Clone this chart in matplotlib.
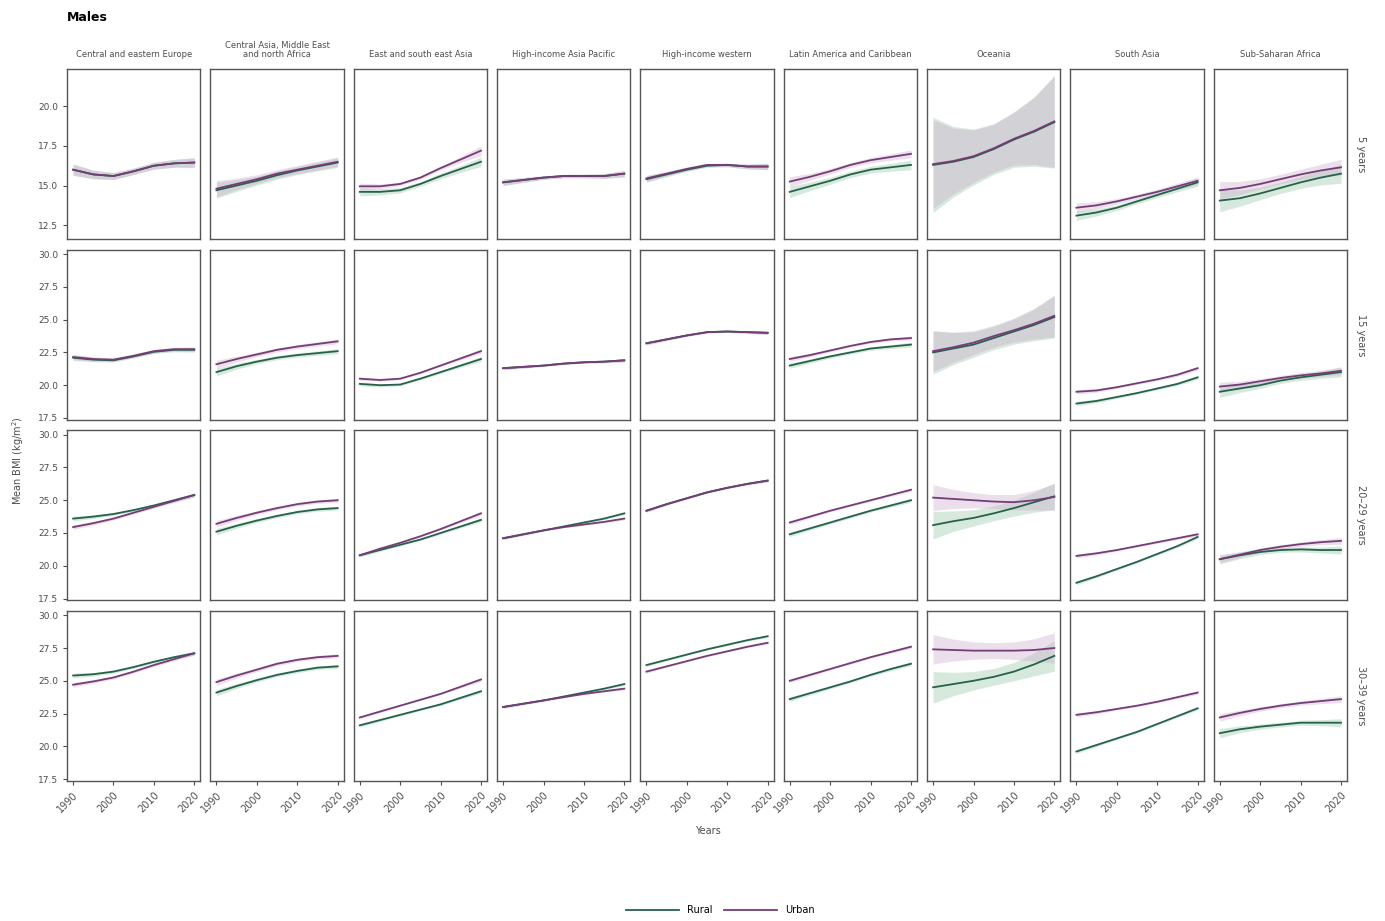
import numpy as np
import matplotlib
matplotlib.use("Agg")
import matplotlib.pyplot as plt
from matplotlib.lines import Line2D

# regions (columns) and age groups (rows)
regions = ["Central and eastern Europe",
           "Central Asia, Middle East\nand north Africa",
           "East and south east Asia",
           "High-income Asia Pacific",
           "High-income western",
           "Latin America and Caribbean",
           "Oceania",
           "South Asia",
           "Sub-Saharan Africa"]
ages = ["5 years", "15 years", "20\u201329 years", "30\u201339 years"]

years = [1990, 1995, 2000, 2005, 2010, 2015, 2020]

# mean BMI, one list per region, years as above
rural_5 = [
    [16.0, 15.7, 15.6, 15.9, 16.25, 16.4, 16.45],
    [14.7, 15.0, 15.3, 15.65, 15.95, 16.2, 16.45],
    [14.6, 14.6, 14.7, 15.1, 15.6, 16.05, 16.5],
    [15.2, 15.35, 15.5, 15.6, 15.6, 15.6, 15.75],
    [15.4, 15.7, 16.0, 16.25, 16.3, 16.2, 16.2],
    [14.6, 14.95, 15.3, 15.7, 16.0, 16.15, 16.3],
    [16.3, 16.5, 16.8, 17.3, 17.9, 18.4, 19.0],
    [13.1, 13.3, 13.6, 14.0, 14.4, 14.8, 15.2],
    [14.05, 14.2, 14.5, 14.85, 15.2, 15.5, 15.75],
]
urban_5 = [
    [16.0, 15.7, 15.6, 15.9, 16.25, 16.4, 16.45],
    [14.8, 15.1, 15.4, 15.75, 16.0, 16.25, 16.5],
    [14.95, 14.95, 15.1, 15.5, 16.1, 16.65, 17.2],
    [15.2, 15.35, 15.5, 15.6, 15.6, 15.6, 15.75],
    [15.45, 15.75, 16.05, 16.3, 16.3, 16.2, 16.2],
    [15.25, 15.55, 15.9, 16.3, 16.6, 16.8, 17.0],
    [16.35, 16.55, 16.85, 17.35, 17.95, 18.45, 19.05],
    [13.6, 13.75, 14.0, 14.3, 14.6, 14.95, 15.3],
    [14.7, 14.85, 15.1, 15.4, 15.7, 15.95, 16.15],
]
rural_15 = [
    [22.1, 21.95, 21.9, 22.2, 22.55, 22.7, 22.7],
    [21.0, 21.45, 21.8, 22.1, 22.3, 22.45, 22.6],
    [20.1, 20.0, 20.05, 20.5, 21.0, 21.5, 22.0],
    [21.3, 21.4, 21.5, 21.65, 21.75, 21.8, 21.9],
    [23.2, 23.5, 23.8, 24.05, 24.1, 24.05, 24.0],
    [21.5, 21.85, 22.2, 22.5, 22.8, 22.95, 23.1],
    [22.5, 22.8, 23.1, 23.6, 24.1, 24.6, 25.2],
    [18.6, 18.8, 19.1, 19.4, 19.75, 20.1, 20.6],
    [19.5, 19.75, 20.0, 20.35, 20.6, 20.8, 21.0],
]
urban_15 = [
    [22.15, 22.0, 21.95, 22.25, 22.6, 22.75, 22.75],
    [21.6, 22.0, 22.35, 22.7, 22.95, 23.15, 23.35],
    [20.5, 20.4, 20.5, 20.95, 21.5, 22.05, 22.6],
    [21.3, 21.4, 21.5, 21.65, 21.75, 21.8, 21.9],
    [23.2, 23.5, 23.8, 24.05, 24.1, 24.05, 24.0],
    [22.0, 22.3, 22.65, 23.0, 23.3, 23.5, 23.6],
    [22.6, 22.9, 23.25, 23.75, 24.2, 24.7, 25.3],
    [19.5, 19.6, 19.85, 20.15, 20.45, 20.8, 21.3],
    [19.9, 20.05, 20.3, 20.55, 20.75, 20.9, 21.1],
]
rural_20 = [
    [23.6, 23.75, 23.95, 24.25, 24.6, 25.0, 25.4],
    [22.6, 23.05, 23.45, 23.8, 24.1, 24.3, 24.4],
    [20.8, 21.2, 21.6, 22.0, 22.5, 23.0, 23.5],
    [22.1, 22.4, 22.7, 23.0, 23.3, 23.6, 24.0],
    [24.2, 24.7, 25.15, 25.6, 25.95, 26.25, 26.5],
    [22.4, 22.85, 23.3, 23.75, 24.2, 24.6, 25.0],
    [23.1, 23.4, 23.65, 24.0, 24.4, 24.85, 25.3],
    [18.7, 19.2, 19.75, 20.3, 20.9, 21.5, 22.2],
    [20.5, 20.8, 21.05, 21.2, 21.25, 21.2, 21.2],
]
urban_20 = [
    [22.95, 23.25, 23.6, 24.05, 24.5, 24.95, 25.4],
    [23.2, 23.65, 24.05, 24.4, 24.7, 24.9, 25.0],
    [20.8, 21.3, 21.75, 22.25, 22.8, 23.4, 24.0],
    [22.1, 22.4, 22.7, 22.95, 23.15, 23.35, 23.6],
    [24.2, 24.7, 25.15, 25.6, 25.95, 26.25, 26.5],
    [23.3, 23.75, 24.2, 24.6, 25.0, 25.4, 25.8],
    [25.2, 25.1, 25.0, 24.9, 24.85, 25.0, 25.25],
    [20.75, 20.95, 21.2, 21.5, 21.8, 22.1, 22.4],
    [20.5, 20.85, 21.2, 21.45, 21.65, 21.8, 21.9],
]
rural_30 = [
    [25.4, 25.5, 25.7, 26.05, 26.45, 26.8, 27.1],
    [24.1, 24.6, 25.05, 25.45, 25.75, 26.0, 26.1],
    [21.6, 22.0, 22.4, 22.8, 23.2, 23.7, 24.2],
    [23.0, 23.25, 23.5, 23.8, 24.1, 24.4, 24.75],
    [26.2, 26.6, 27.0, 27.4, 27.75, 28.1, 28.4],
    [23.6, 24.05, 24.5, 24.95, 25.45, 25.9, 26.3],
    [24.5, 24.75, 25.0, 25.3, 25.7, 26.25, 26.9],
    [19.6, 20.1, 20.6, 21.1, 21.7, 22.3, 22.9],
    [21.0, 21.3, 21.5, 21.65, 21.8, 21.8, 21.8],
]
urban_30 = [
    [24.7, 24.95, 25.25, 25.7, 26.2, 26.65, 27.1],
    [24.9, 25.4, 25.85, 26.3, 26.6, 26.8, 26.9],
    [22.2, 22.65, 23.1, 23.55, 24.0, 24.55, 25.1],
    [23.0, 23.25, 23.5, 23.75, 24.0, 24.2, 24.4],
    [25.7, 26.1, 26.5, 26.9, 27.25, 27.6, 27.9],
    [25.0, 25.45, 25.9, 26.35, 26.8, 27.2, 27.6],
    [27.4, 27.35, 27.3, 27.3, 27.3, 27.35, 27.5],
    [22.4, 22.6, 22.85, 23.1, 23.4, 23.75, 24.1],
    [22.2, 22.55, 22.85, 23.1, 23.3, 23.45, 23.6],
]

# ribbon half-widths (start, middle, end) per region
half_rural = [
    [0.35, 0.2, 0.3], [0.5, 0.25, 0.3], [0.25, 0.15, 0.3], [0.2, 0.1, 0.2], [0.2, 0.1, 0.2],
    [0.35, 0.2, 0.3], [3.0, 1.6, 2.9], [0.3, 0.15, 0.25], [0.7, 0.35, 0.6],
]
half_urban = [
    [0.35, 0.2, 0.3], [0.5, 0.25, 0.3], [0.2, 0.1, 0.3], [0.2, 0.1, 0.2], [0.2, 0.1, 0.2],
    [0.3, 0.15, 0.25], [2.8, 1.5, 2.9], [0.3, 0.15, 0.25], [0.55, 0.3, 0.5],
]
# older age groups have narrower bands except Oceania
age_band_scale = [1.0, 0.6, 0.5, 0.5]
oceania_band = [1.0, 0.55, 0.35, 0.4]

rural_all = [rural_5, rural_15, rural_20, rural_30]
urban_all = [urban_5, urban_15, urban_20, urban_30]

col_rural = "#26624b"
col_urban = "#763c78"
fill_rural = "#8fdcaa"
fill_urban = "#e0b0e2"
grey = "#4d4d4d"

fig = plt.figure(figsize=(13.85, 9.21), dpi=100)
gs = fig.add_gridspec(4, 9, left=0.0484, right=0.9726, top=0.925, bottom=0.152,
                      wspace=0.075, hspace=0.06)

yr = np.array(years, dtype=float)
u = (yr - 2005.0) / 15.0
for r in range(4):
    for c in range(9):
        ax = fig.add_subplot(gs[r, c])
        for vals, half, col, fc in ((rural_all[r][c], half_rural[c], col_rural, fill_rural),
                                    (urban_all[r][c], half_urban[c], col_urban, fill_urban)):
            v = np.array(vals)
            s = oceania_band[r] if c == 6 else age_band_scale[r]
            # band narrowest mid-period, widening towards both ends
            ends = np.where(u < 0, half[0], half[2])
            h = (half[1] + (ends - half[1]) * u ** 2) * s
            ax.fill_between(yr, v - h, v + h, color=fc, alpha=0.28, lw=0)
            ax.fill_between(yr, v - h, v + h, color="#b4b4b4", alpha=0.18, lw=0)
            ax.plot(yr, v, color=col, lw=1.3)
        ax.set_xlim(1988.5, 2021.5)
        if r == 0:
            ax.set_ylim(11.6, 22.35)
            ax.set_yticks([12.5, 15.0, 17.5, 20.0])
            ax.set_title(regions[c], fontsize=6, color=grey, pad=9, linespacing=0.9)
        else:
            ax.set_ylim(17.35, 30.35)
            ax.set_yticks([17.5, 20.0, 22.5, 25.0, 27.5, 30.0])
        ax.set_xticks([1990, 2000, 2010, 2020])
        for sp in ax.spines.values():
            sp.set_color("#555555")
            sp.set_linewidth(1.0)
        ax.tick_params(colors=grey, labelsize=6.5, length=3, width=0.8)
        if c == 0:
            ax.set_yticklabels(["%.1f" % t for t in ax.get_yticks()])
        else:
            ax.tick_params(axis="y", left=False, labelleft=False)
        if r == 3:
            ax.set_xticklabels([str(y) for y in [1990, 2000, 2010, 2020]],
                               rotation=45, ha="right", rotation_mode="anchor", fontsize=7)
        else:
            ax.tick_params(axis="x", bottom=False, labelbottom=False)
        if c == 8:
            ax.text(1.07, 0.5, ages[r], transform=ax.transAxes, rotation=270,
                    va="center", ha="left", fontsize=7, color=grey)

fig.text(0.0484, 0.988, "Males", fontsize=9, fontweight="bold", va="top", ha="left")
fig.text(0.013, 0.5, "Mean BMI (kg/m$^2$)", rotation=90, va="center", ha="center",
         fontsize=7, color=grey)
fig.text(0.511, 0.098, "Years", va="center", ha="center", fontsize=7, color=grey)

handles = [Line2D([], [], color=col_rural, lw=1.3), Line2D([], [], color=col_urban, lw=1.3)]
fig.legend(handles, ["Rural", "Urban"], loc="center", bbox_to_anchor=(0.52, 0.012),
           ncol=2, frameon=False, fontsize=7, handlelength=5.5, columnspacing=1.2)

fig.savefig("out.png", dpi=100)
